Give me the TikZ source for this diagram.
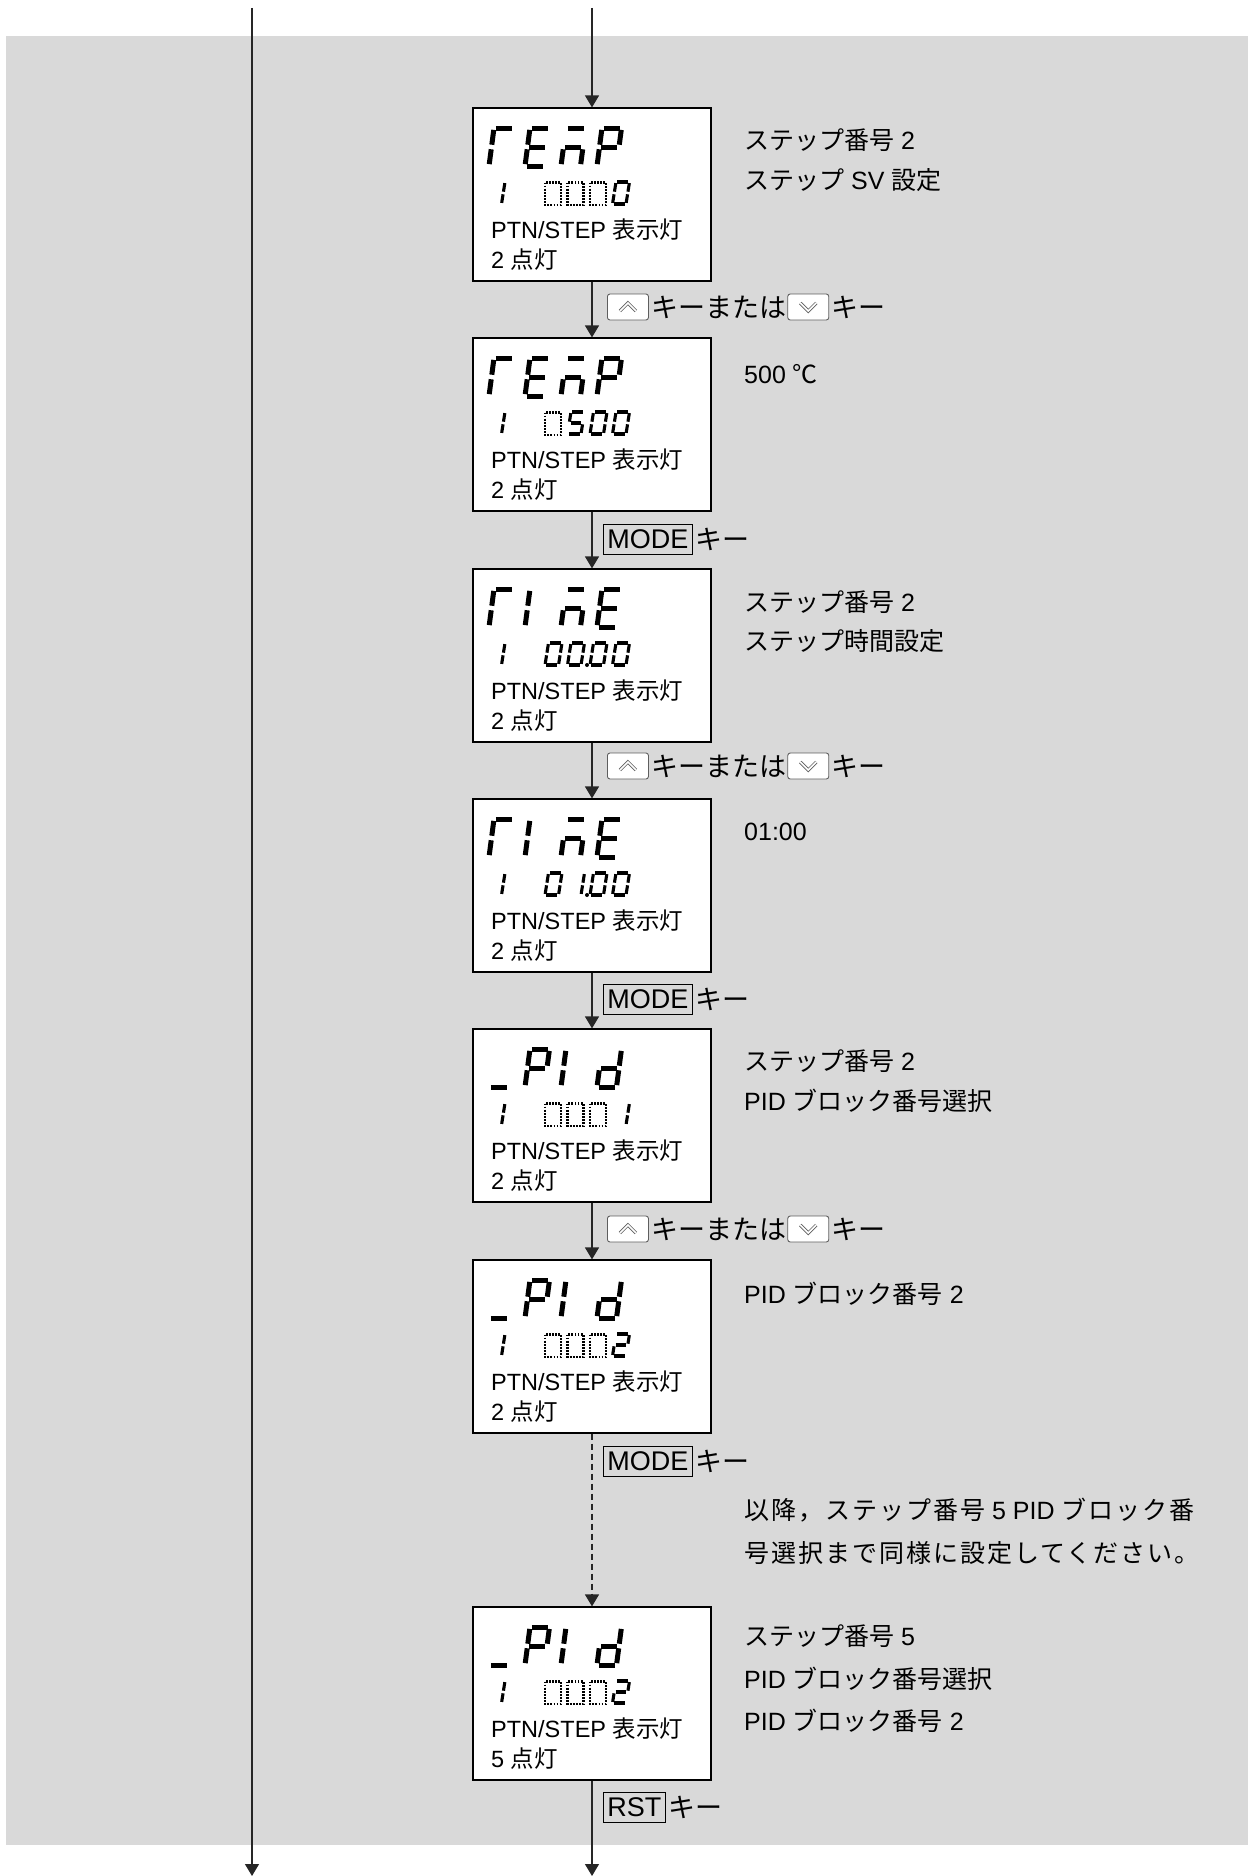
\documentclass[tikz,border=0pt]{standalone}
\usepackage{fontspec}
\setmainfont{Liberation Sans}
\newfontfamily\jpfont{Noto Sans CJK JP}
\usetikzlibrary{arrows.meta,positioning}

\definecolor{panel-bg}{HTML}{D9D9D9}
\definecolor{key-edge}{HTML}{5E5E5E}

\newcommand{\jp}[1]{{\jpfont #1}}
\newcommand{\jpw}[1]{{\jpfont\addfontfeature{LetterSpace=8}#1}}

% segments of one LCD cell (unit cell, origin bottom left)
\def\lcdsega{(0.1,1)--(0.9,1)}
\def\lcdsegb{(1,0.95)--(1,0.56)}
\def\lcdsegc{(1,0.44)--(1,0.05)}
\def\lcdsegd{(0.1,0)--(0.9,0)}
\def\lcdsege{(0,0.44)--(0,0.05)}
\def\lcdsegf{(0,0.95)--(0,0.56)}
\def\lcdsegg{(0.1,0.5)--(0.9,0.5)}

% big cell: #1 = position 1..4, #2 = top of panel, #3 = lit segments
\newcommand{\bigchar}[3]{%
  \begin{scope}[shift={({489+36*(#1-1)},{#2+58})}, x={(19.5pt,0pt)}, y={(5pt,38pt)}]
    \foreach \s in {#3} {\draw[segbig] \csname lcdseg\s\endcsname;}
  \end{scope}}
% small cell: #1 = left x, #2 = top of panel, #3 = lit segments
\newcommand{\smallchar}[3]{%
  \begin{scope}[shift={(#1,{#2+96})}, x={(13.5pt,0pt)}, y={(3.5pt,22pt)}]
    \foreach \s in {#3} {\draw[segsmall] \csname lcdseg\s\endcsname;}
  \end{scope}}
\newcommand{\offchar}[2]{\draw[segoff] (#1,{#2+74.5}) rectangle ++(16,22.5);}

\newcommand{\wordtemp}[1]{\bigchar{1}{#1}{a,e,f}\bigchar{2}{#1}{a,d,e,f,g}%
  \bigchar{3}{#1}{a,c,e,g}\bigchar{4}{#1}{a,b,e,f,g}}
\newcommand{\wordtime}[1]{\bigchar{1}{#1}{a,e,f}\bigchar{2}{#1}{e,f}%
  \bigchar{3}{#1}{a,c,e,g}\bigchar{4}{#1}{a,d,e,f,g}}
\newcommand{\wordpid}[1]{\bigchar{1}{#1}{d}\bigchar{2}{#1}{a,b,e,f,g}%
  \bigchar{3}{#1}{e,f}\bigchar{4}{#1}{b,c,d,e,g}}

\tikzset{
  flow/.style={line width=1.3pt, draw=black!85, -{Triangle[width=14pt,length=12pt]}},
  lcd/.style={draw, fill=white, line width=1.2pt, minimum width=238pt,
    minimum height=173pt, inner sep=0pt},
  segbig/.style={line width=5pt},
  segsmall/.style={line width=3.1pt},
  segoff/.style={line width=2.4pt, dash pattern=on 1.8pt off 1.3pt},
  boxtext/.style={anchor=west, inner sep=0pt, font=\fontsize{23.5}{27}\selectfont},
  desc/.style={anchor=west, inner sep=0pt, font=\fontsize{25}{30}\selectfont},
  keytext/.style={inner sep=0pt, font=\fontsize{27}{30}\selectfont},
  keybox/.style={draw, line width=0.8pt, inner xsep=4pt, inner ysep=0pt,
    minimum height=30pt, font=\fontsize{27}{30}\selectfont},
  arrowkey/.style={draw=key-edge, fill=white, line width=0.9pt, rounded corners=2.5pt,
    minimum width=41pt, minimum height=26pt, inner sep=0pt},
  chev/.style={sharp corners, draw=key-edge, line width=0.8pt, double=white,
    double distance=1.6pt},
  upkey/.style={arrowkey, path picture={
    \draw[chev] ([shift={(-8,4)}]path picture bounding box.center)
      -- ([shift={(0,-4)}]path picture bounding box.center)
      -- ([shift={(8,4)}]path picture bounding box.center);}},
  downkey/.style={arrowkey, path picture={
    \draw[chev] ([shift={(-8,-4)}]path picture bounding box.center)
      -- ([shift={(0,4)}]path picture bounding box.center)
      -- ([shift={(8,-4)}]path picture bounding box.center);}},
}

\begin{document}
\begin{tikzpicture}[x=1pt, y=-1pt]
  \useasboundingbox (0,0) rectangle (1248,1876);
  \fill[panel-bg] (6,36) rectangle (1248,1845);

  % left pass-through line
  \coordinate (ltop) at (252,8);
  \coordinate (lbot) at (252,1876);
  \draw[flow] (ltop) -- (lbot);

  % display panels
  \node[lcd] (box1) at (592,194.5) {};
  \node[lcd] (box2) at (592,424.5) {};
  \node[lcd] (box3) at (592,655.5) {};
  \node[lcd] (box4) at (592,885.5) {};
  \node[lcd] (box5) at (592,1115.5) {};
  \node[lcd] (box6) at (592,1346.5) {};
  \node[lcd] (box7) at (592,1693.5) {};

  % panel 1: TEMP, 1 0000
  \wordtemp{108}
  \smallchar{488}{108}{b,c}
  \offchar{545}{108}\offchar{567.5}{108}\offchar{590}{108}
  \smallchar{612.5}{108}{a,b,c,d,e,f}
  % panel 2: TEMP, 1 0500
  \wordtemp{338}
  \smallchar{488}{338}{b,c}
  \offchar{545}{338}
  \smallchar{567.5}{338}{a,f,g,c,d}
  \smallchar{590}{338}{a,b,c,d,e,f}
  \smallchar{612.5}{338}{a,b,c,d,e,f}
  % panel 3: TIME, 1 00.00
  \wordtime{569}
  \smallchar{488}{569}{b,c}
  \smallchar{545}{569}{a,b,c,d,e,f}
  \smallchar{567.5}{569}{a,b,c,d,e,f}
  \fill (587,665) circle (2pt);
  \smallchar{590}{569}{a,b,c,d,e,f}
  \smallchar{612.5}{569}{a,b,c,d,e,f}
  % panel 4: TIME, 1 01.00
  \wordtime{799}
  \smallchar{488}{799}{b,c}
  \smallchar{545}{799}{a,b,c,d,e,f}
  \smallchar{567.5}{799}{b,c}
  \fill (587,895) circle (2pt);
  \smallchar{590}{799}{a,b,c,d,e,f}
  \smallchar{612.5}{799}{a,b,c,d,e,f}
  % panel 5: _PId, 1 0001
  \wordpid{1029}
  \smallchar{488}{1029}{b,c}
  \offchar{545}{1029}\offchar{567.5}{1029}\offchar{590}{1029}
  \smallchar{612.5}{1029}{b,c}
  % panel 6: _PId, 1 0002
  \wordpid{1260}
  \smallchar{488}{1260}{b,c}
  \offchar{545}{1260}\offchar{567.5}{1260}\offchar{590}{1260}
  \smallchar{612.5}{1260}{a,b,g,e,d}
  % panel 7: _PId, 1 0002
  \wordpid{1607}
  \smallchar{488}{1607}{b,c}
  \offchar{545}{1607}\offchar{567.5}{1607}\offchar{590}{1607}
  \smallchar{612.5}{1607}{a,b,g,e,d}

  % lamp texts inside the panels
  \node[boxtext] (ptn1) at (491,230) {PTN/STEP \jp{表示灯}};
  \node[boxtext] (lit1) at (491,260) {2 \jp{点灯}};
  \node[boxtext] (ptn2) at (491,460) {PTN/STEP \jp{表示灯}};
  \node[boxtext] (lit2) at (491,490) {2 \jp{点灯}};
  \node[boxtext] (ptn3) at (491,691) {PTN/STEP \jp{表示灯}};
  \node[boxtext] (lit3) at (491,721) {2 \jp{点灯}};
  \node[boxtext] (ptn4) at (491,921) {PTN/STEP \jp{表示灯}};
  \node[boxtext] (lit4) at (491,951) {2 \jp{点灯}};
  \node[boxtext] (ptn5) at (491,1151) {PTN/STEP \jp{表示灯}};
  \node[boxtext] (lit5) at (491,1181) {2 \jp{点灯}};
  \node[boxtext] (ptn6) at (491,1382) {PTN/STEP \jp{表示灯}};
  \node[boxtext] (lit6) at (491,1412) {2 \jp{点灯}};
  \node[boxtext] (ptn7) at (491,1729) {PTN/STEP \jp{表示灯}};
  \node[boxtext] (lit7) at (491,1759) {5 \jp{点灯}};

  % flow
  \coordinate (mtop) at (592,8);
  \coordinate (mbot) at (592,1876);
  \draw[flow] (mtop) -- (box1);
  \draw[flow] (box1) -- (box2);
  \draw[flow] (box2) -- (box3);
  \draw[flow] (box3) -- (box4);
  \draw[flow] (box4) -- (box5);
  \draw[flow] (box5) -- (box6);
  \draw[flow, dash pattern=on 6pt off 4pt] (box6) -- (box7);
  \draw[flow] (box7) -- (mbot);

  % key labels
  \node[upkey, anchor=west] (up1) at (607,307) {};
  \node[keytext, right=2pt of up1] (or1) {\jp{キーまたは}};
  \node[downkey, right=1pt of or1] (dn1) {};
  \node[keytext, right=2pt of dn1] (key1) {\jp{キー}};

  \node[keybox, anchor=west] (mode1) at (603,539) {MODE};
  \node[keytext, right=2pt of mode1] (key2) {\jp{キー}};

  \node[upkey, anchor=west] (up2) at (607,766) {};
  \node[keytext, right=2pt of up2] (or2) {\jp{キーまたは}};
  \node[downkey, right=1pt of or2] (dn2) {};
  \node[keytext, right=2pt of dn2] (key3) {\jp{キー}};

  \node[keybox, anchor=west] (mode2) at (603,999) {MODE};
  \node[keytext, right=2pt of mode2] (key4) {\jp{キー}};

  \node[upkey, anchor=west] (up3) at (607,1229) {};
  \node[keytext, right=2pt of up3] (or3) {\jp{キーまたは}};
  \node[downkey, right=1pt of or3] (dn3) {};
  \node[keytext, right=2pt of dn3] (key5) {\jp{キー}};

  \node[keybox, anchor=west] (mode3) at (603,1461) {MODE};
  \node[keytext, right=2pt of mode3] (key6) {\jp{キー}};

  \node[keybox, anchor=west] (rst) at (603,1807) {RST};
  \node[keytext, right=2pt of rst] (key7) {\jp{キー}};

  % descriptions
  \node[desc] (d1a) at (744,140) {\jp{ステップ番号} 2};
  \node[desc] (d1b) at (744,180) {\jp{ステップ} SV \jp{設定}};
  \node[desc] (d2a) at (744,374) {500 \jp{℃}};
  \node[desc] (d3a) at (744,602) {\jp{ステップ番号} 2};
  \node[desc] (d3b) at (744,641) {\jp{ステップ時間設定}};
  \node[desc] (d4a) at (744,832) {01:00};
  \node[desc] (d5a) at (744,1061) {\jp{ステップ番号} 2};
  \node[desc] (d5b) at (744,1101) {PID \jp{ブロック番号選択}};
  \node[desc] (d6a) at (744,1294) {PID \jp{ブロック番号} 2};
  \node[desc] (rest1) at (744,1510) {\jpw{以降，ステップ番号} 5 PID \jpw{ブロック番}};
  \node[desc] (rest2) at (744,1553) {\jpw{号選択まで同様に設定してください。}};
  \node[desc] (d7a) at (744,1636) {\jp{ステップ番号} 5};
  \node[desc] (d7b) at (744,1679) {PID \jp{ブロック番号選択}};
  \node[desc] (d7c) at (744,1721) {PID \jp{ブロック番号} 2};
\end{tikzpicture}
\end{document}
